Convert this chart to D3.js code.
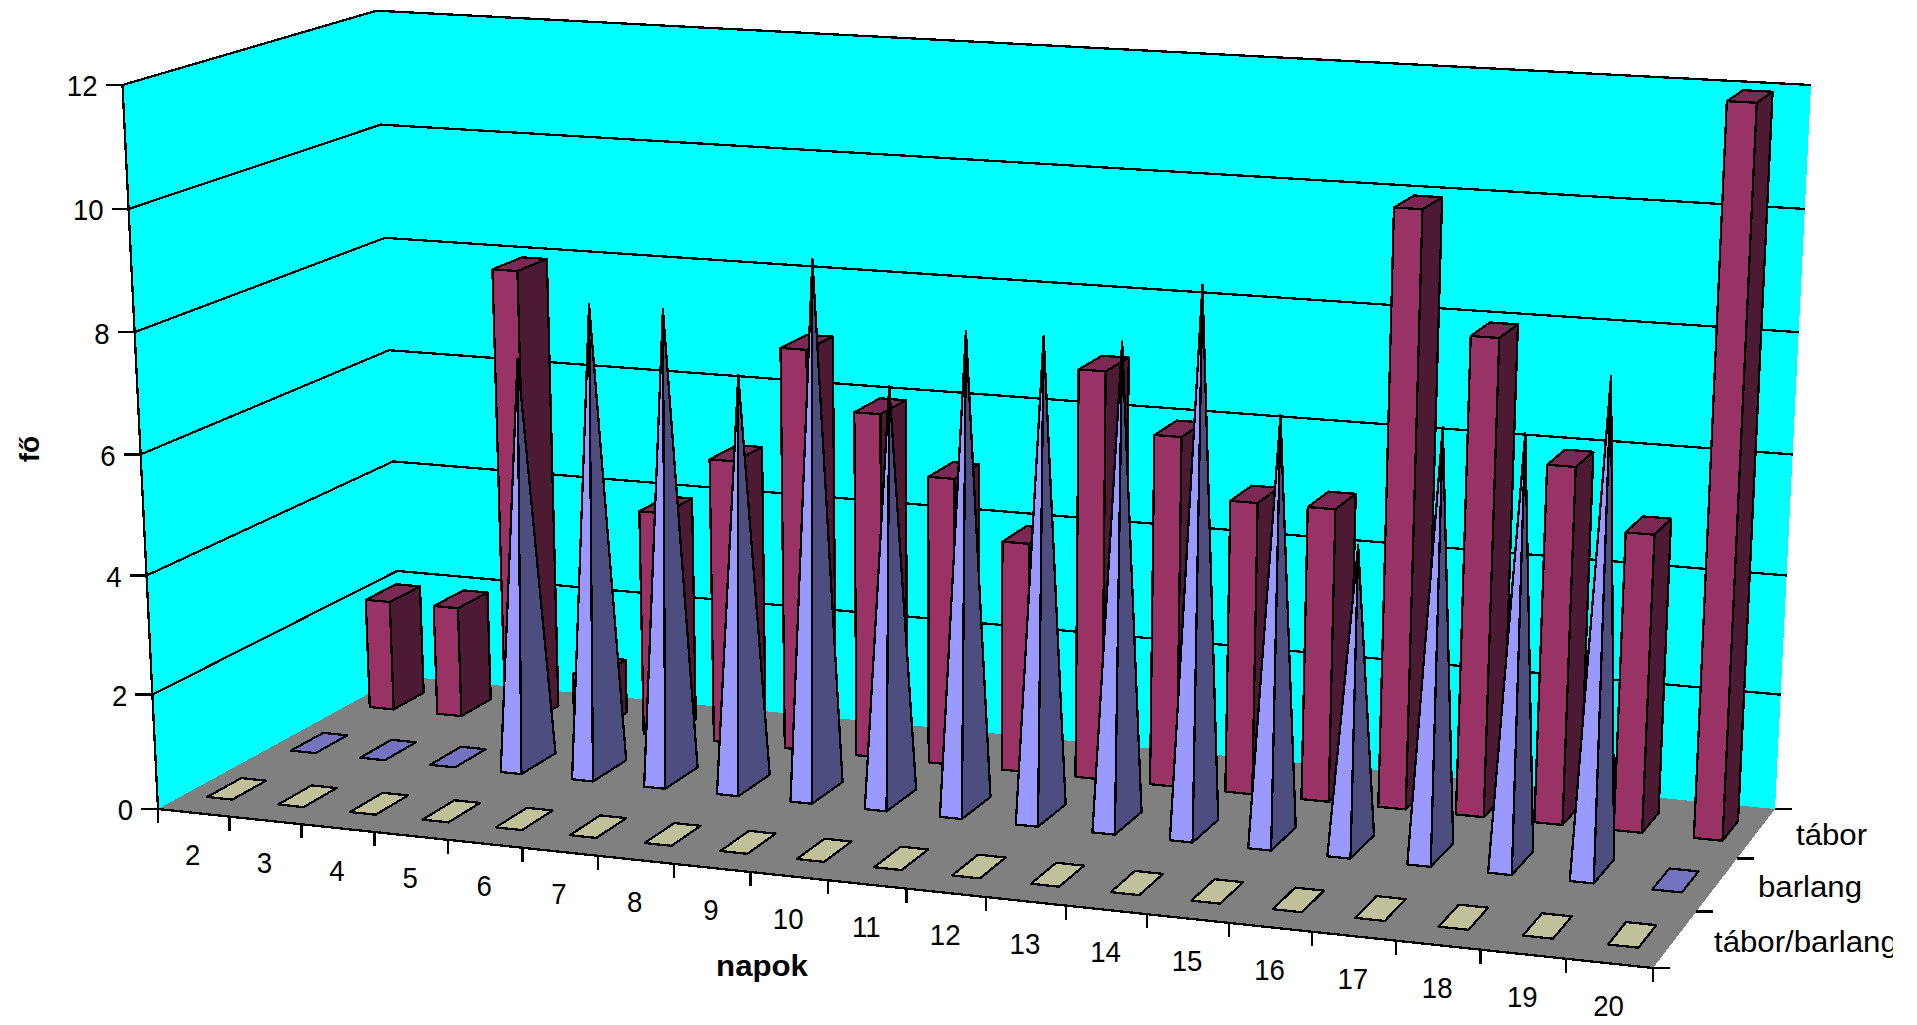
<!DOCTYPE html>
<html><head><meta charset="utf-8">
<style>html,body{margin:0;background:#fff;overflow:hidden}svg{display:block}text{font-family:"Liberation Sans",Arial,sans-serif;fill:#000}</style>
<script src="https://cdn.jsdelivr.net/npm/d3@7"></script></head><body>
<script>
// ---- data ----
const days = [2,3,4,5,6,7,8,9,10,11,12,13,14,15,16,17,18,19,20];
const seriesNames = ["tábor/barlang","barlang","tábor"];
const taborBarlangValues = [0,0,0,0,0,0,0,0,0,0,0,0,0,0,0,0,0,0,0];
const barlangValues = [0,0,0,7,8,8,7,9,7,8,8,8,9,7,5,7,7,8,0];
const taborValues = [2,2,8,1,4,5,7,6,5,4,7,6,5,5,10,8,6,5,12];
const valueTicks = [0,2,4,6,8,10,12];
const yTitle = "fő", xTitle = "napok";
const styles = {
  wall:"#00FFFF", floor:"#808080",
  bar:{front:"#993366",side:"#4D1A33",top:"#7A2952"},
  pyr:{front:"#9999FF",side:"#4D4D80"},
  flatBlue:"#7373BF", flatCream:"#C0C09A"
};
// ---- 3D box frame: corners on screen, [front-left, front-right, back-right, back-left] ----
const floorQ = [[158,809],[1653,968],[1775,809],[401,676]];
const topQ   = [[122.5,85],[1686,174],[1811,85],[376.6,10.7]];
function quadMap(q){
  const [[x0,y0],[x1,y1],[x2,y2],[x3,y3]] = q;
  const dx1=x1-x2,dx2=x3-x2,sx=x0-x1+x2-x3,dy1=y1-y2,dy2=y3-y2,sy=y0-y1+y2-y3;
  const den=dx1*dy2-dx2*dy1;
  const g=(sx*dy2-dx2*sy)/den,h=(dx1*sy-sx*dy1)/den;
  const a=x1-x0+g*x1,b=x3-x0+h*x3,d=y1-y0+g*y1,e=y3-y0+h*y3;
  return (u,v)=>{const w=g*u+h*v+1;return [(a*u+b*v+x0)/w,(d*u+e*v+y0)/w];};
}
const H0=quadMap(floorQ),H1=quadMap(topQ);
const vScale=d3.scalePow().exponent(1.03).domain([0,12]).range([0,1]);
const warp=u=>u-.015*u*(1-u);
const P=(u0,d,val)=>{const u=warp(u0),t=vScale(val),a=H0(u,d),b=H1(u,d);return [a[0]+(b[0]-a[0])*t,a[1]+(b[1]-a[1])*t];};
const uBand=d3.scaleBand().domain(days).range([0,1]).paddingInner(.645).paddingOuter(.3225);
const dBand=d3.scaleBand().domain(seriesNames).range([0,1]).paddingInner(.6).paddingOuter(.3);
const SW=2.3;
const svg=d3.select("body").append("svg").attr("width",1917).attr("height",1025);
svg.append("defs").append("clipPath").attr("id","clipR").append("rect").attr("x",0).attr("y",0).attr("width",1893).attr("height",1025);
const line=d3.line();
const poly=(g,pts,fill,sw)=>g.append("path").attr("d",line(pts)+"Z").attr("fill",fill).attr("stroke",sw?"#000":"none").attr("stroke-width",sw||0).attr("stroke-linejoin","round").attr("shape-rendering","crispEdges");
// walls & floor
const walls=svg.append("g");
poly(walls,[P(0,0,12),P(0,1,12),P(1,1,12),P(1,1,0),P(0,1,0),P(0,0,0)],styles.wall);
poly(walls,[P(0,0,0),P(1,0,0),P(1,1,0),P(0,1,0)],styles.floor);
const grid=svg.append("g");
valueTicks.filter(v=>v>0).forEach(v=>{
  grid.append("path").attr("d",line([P(0,0,v),P(0,1,v),P(1,1,v)])).attr("fill","none").attr("stroke","#000").attr("stroke-width",SW).attr("shape-rendering","crispEdges");
});
const stroke=(g,pts)=>g.append("path").attr("d",line(pts)).attr("fill","none").attr("stroke","#000").attr("stroke-width",SW).attr("shape-rendering","crispEdges");
stroke(grid,[P(0,0,12),P(0,0,0)]);
stroke(grid,[P(0,0,0),P(1,0,0)]);
// ticks
const axisG=svg.append("g");
const txt=(x,y,s,anchor,bold,sx)=>axisG.append("text").attr("transform",`translate(${x},${y}) scale(${sx},1)`).attr("text-anchor",anchor).attr("dominant-baseline","central").attr("font-size",30).attr("font-weight",bold?"bold":"normal").text(s);
valueTicks.forEach(v=>{
  const [x,y]=P(0,0,v);
  stroke(axisG,[[x-17,y],[x,y]]);
  txt(x-25,y+1,v,"end",false,.92);
});
d3.range(days.length+1).forEach(i=>{
  const [x,y]=P(i/days.length,0,0);
  stroke(axisG,[[x,y],[x,y+14]]);
});
days.forEach(dy=>{
  const [x,y]=P(uBand(dy)+uBand.bandwidth()/2,0,0);
  txt(x-1,y+42,dy,"middle",false,.92);
});
d3.range(seriesNames.length+1).forEach(i=>{
  const [x,y]=P(1,i/seriesNames.length,0);
  stroke(axisG,[[x,y],[x+17,y]]);
});
const depthLabelPos=[[1714,941],[1758,886],[1796,834]];
seriesNames.forEach((s,i)=>{
  const t=txt(depthLabelPos[i][0],depthLabelPos[i][1],s,"start",false,1.04);
  const clipG=axisG.append("g").attr("clip-path","url(#clipR)");
  clipG.node().appendChild(t.node());
});
axisG.append("text").attr("transform","translate(29,449) rotate(-90)").attr("text-anchor","middle").attr("dominant-baseline","central").attr("font-size",28).attr("font-weight","bold").text(yTitle);
txt(762,965,xTitle,"middle",true,1.04);
// marks: back row first
const marks=svg.append("g");
const drawBar=(dy,rowName,val,c)=>{
  const u0=uBand(dy),u1=u0+uBand.bandwidth(),d0=dBand(rowName),d1=d0+dBand.bandwidth();
  poly(marks,[P(u1,d0,0),P(u1,d1,0),P(u1,d1,val),P(u1,d0,val)],c.side,SW);
  poly(marks,[P(u0,d0,0),P(u1,d0,0),P(u1,d0,val),P(u0,d0,val)],c.front,SW);
  poly(marks,[P(u0,d0,val),P(u1,d0,val),P(u1,d1,val),P(u0,d1,val)],c.top,SW);
};
const drawPyr=(dy,rowName,val,c)=>{
  const u0=uBand(dy),u1=u0+uBand.bandwidth()*.82,d0=dBand(rowName),d1=d0+dBand.bandwidth()*1.15;
  const apex=P((u0+u1)/2,(d0+d1)/2,val);
  poly(marks,[P(u1,d0,0),P(u1,d1,0),apex],c.side,SW);
  poly(marks,[P(u0,d0,0),P(u1,d0,0),apex],c.front,SW);
};
const drawFlat=(dy,rowName,col)=>{
  const u0=uBand(dy),u1=u0+uBand.bandwidth(),d0=dBand(rowName),d1=d0+dBand.bandwidth();
  poly(marks,[P(u0,d0,0),P(u1,d0,0),P(u1,d1,0),P(u0,d1,0)],col,SW);
};
days.forEach((dy,i)=>{ if(taborValues[i]>0) drawBar(dy,"tábor",taborValues[i],styles.bar); else drawFlat(dy,"tábor",styles.bar.top); });
days.forEach((dy,i)=>{ if(barlangValues[i]>0) drawPyr(dy,"barlang",barlangValues[i],styles.pyr); else drawFlat(dy,"barlang",styles.flatBlue); });
days.forEach((dy,i)=>{ drawFlat(dy,"tábor/barlang",styles.flatCream); });
</script></body></html>
